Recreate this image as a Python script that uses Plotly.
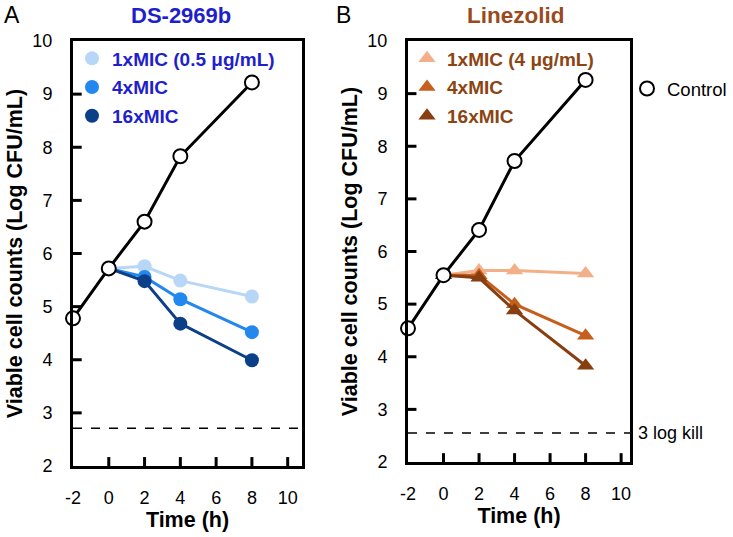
import plotly.graph_objects as go

# ---- data ----
time_ctrl = [-2, 0, 2, 4, 8]
ctrl_ds = [4.78, 5.72, 6.60, 7.83, 9.22]
ctrl_lzd = [4.54, 5.55, 6.41, 7.72, 9.26]

time_trt = [0, 2, 4, 8]
ds_1x = [5.72, 5.76, 5.49, 5.19]
ds_4x = [5.72, 5.56, 5.14, 4.52]
ds_16x = [5.72, 5.48, 4.68, 3.99]

lzd_1x = [5.55, 5.64, 5.64, 5.58]
lzd_4x = [5.55, 5.55, 5.00, 4.40]
lzd_16x = [5.55, 5.50, 4.88, 3.83]

kill_ds = 2.71
kill_lzd = 2.55

ds_labels = ["1xMIC (0.5 μg/mL)", "4xMIC", "16xMIC"]
lzd_labels = ["1xMIC (4 μg/mL)", "4xMIC", "16xMIC"]
x_ticks = [-2, 0, 2, 4, 6, 8, 10]
x_tick_text = ["-2", "0", "2", "4", "6", "8", "10"]
y_ticks = [2, 3, 4, 5, 6, 7, 8, 9, 10]

blues = ["#b8d6f6", "#2287ee", "#0b3f88"]
oranges = ["#f3b088", "#c65f1b", "#873e10"]
blue_txt = "#1f1fcc"
brown_txt = "#8b4513"

W, H = 733, 537
FONT = "Liberation Sans, Arial, sans-serif"

X_RANGE_A = [-2, 10.8]
X_RANGE_B = [-2, 10.5]
Y_RANGE = [2, 10]

fig = go.Figure()

def add_panel(xa, ya, ctrl, series, labels, colors, symbol, legend_name, show_ctrl_legend):
    msize = 15 if symbol == "triangle-up" else 14
    for vals, col in zip(series, colors):
        fig.add_trace(go.Scatter(
            x=time_trt, y=vals, xaxis=xa, yaxis=ya, mode="lines+markers",
            line=dict(color=col, width=3), cliponaxis=False,
            marker=dict(symbol=symbol, size=msize, color=col),
            showlegend=False, hoverinfo="skip"))
    for lab, col in zip(labels, colors):
        fig.add_trace(go.Scatter(
            x=[None], y=[None], xaxis=xa, yaxis=ya, mode="markers",
            marker=dict(symbol=symbol, size=msize, color=col),
            name=lab, legend=legend_name, legendgroup=legend_name + lab, showlegend=True))
    fig.add_trace(go.Scatter(
        x=time_ctrl, y=ctrl, xaxis=xa, yaxis=ya, mode="lines+markers",
        line=dict(color="black", width=3), cliponaxis=False,
        marker=dict(symbol="circle", size=14, color="white", line=dict(color="black", width=2)),
        showlegend=False, hoverinfo="skip"))
    if show_ctrl_legend:
        fig.add_trace(go.Scatter(
            x=[None], y=[None], xaxis=xa, yaxis=ya, mode="markers",
            marker=dict(symbol="circle", size=14, color="white", line=dict(color="black", width=2)),
            name="Control", legend="legend3", showlegend=True))

add_panel("x", "y", ctrl_ds, [ds_1x, ds_4x, ds_16x], ds_labels, blues, "circle", "legend", False)
add_panel("x2", "y2", ctrl_lzd, [lzd_1x, lzd_4x, lzd_16x], lzd_labels, oranges, "triangle-up", "legend2", True)

# inside tick marks, drawn as short line segments at the tick values (on top)
def add_ticks(xa, ya, xr, yr):
    xlen = 0.038 * (xr[1] - xr[0])   # ~9 px
    ylen = 0.021 * (yr[1] - yr[0])   # ~9 px
    tx, ty = [], []
    for xv in x_ticks[1:]:
        tx += [xv, xv, None]
        ty += [yr[0], yr[0] + ylen, None]
    for yv in y_ticks[1:-1]:
        tx += [xr[0], xr[0] + xlen, None]
        ty += [yv, yv, None]
    fig.add_trace(go.Scatter(x=tx, y=ty, xaxis=xa, yaxis=ya, mode="lines",
                             line=dict(color="black", width=3), showlegend=False,
                             connectgaps=False, hoverinfo="skip"))

add_ticks("x", "y", X_RANGE_A, Y_RANGE)
add_ticks("x2", "y2", X_RANGE_B, Y_RANGE)

# 3 log kill lines
fig.add_shape(type="line", xref="x domain", yref="y", x0=0, x1=1, y0=kill_ds, y1=kill_ds,
              line=dict(color="black", width=1.5, dash="dash"))
fig.add_shape(type="line", xref="x2 domain", yref="y2", x0=0, x1=1, y0=kill_lzd, y1=kill_lzd,
              line=dict(color="black", width=1.5, dash="dash"))

# main axes: box lines + labels (transparent outside ticks push labels away)
main_common = dict(showline=True, mirror=True, linewidth=3, linecolor="black",
                   ticks="outside", tickwidth=1, tickcolor="rgba(0,0,0,0)",
                   showgrid=False, zeroline=False, automargin=False,
                   tickfont=dict(family=FONT, size=18, color="black"))

title_font = dict(family=FONT, size=21.5, color="black")

def px_x(p):
    return p / W

def px_y(p):
    return 1 - p / H

fig.update_layout(
    width=W, height=H, margin=dict(l=0, r=0, t=0, b=0, autoexpand=False),
    plot_bgcolor="white", paper_bgcolor="white",
    font=dict(family=FONT, color="black"),
    xaxis=dict(domain=[px_x(73), px_x(302)], range=X_RANGE_A, tickvals=x_ticks, ticktext=x_tick_text,
               ticklen=13, anchor="y",
               title=dict(text="<b>Time (h)</b>", font=title_font, standoff=6), **main_common),
    yaxis=dict(domain=[px_y(466), px_y(41)], range=Y_RANGE, tickvals=y_ticks,
               ticklen=14, anchor="x",
               title=dict(text="<b>Viable cell counts (Log CFU/mL)</b>", font=title_font, standoff=4),
               **main_common),
    xaxis2=dict(domain=[px_x(408), px_x(630)], range=X_RANGE_B, tickvals=x_ticks, ticktext=x_tick_text,
                ticklen=13, anchor="y2",
                title=dict(text="<b>Time (h)</b>", font=title_font, standoff=6), **main_common),
    yaxis2=dict(domain=[px_y(462), px_y(41)], range=Y_RANGE, tickvals=y_ticks,
                ticklen=14, anchor="x2",
                title=dict(text="<b>Viable cell counts (Log CFU/mL)</b>", font=title_font, standoff=4),
                **main_common),
    legend=dict(x=px_x(72), y=px_y(39.5), xanchor="left", yanchor="top",
                bgcolor="rgba(0,0,0,0)", tracegroupgap=1, itemwidth=30,
                font=dict(family=FONT, size=19, color=blue_txt, weight="bold")),
    legend2=dict(x=px_x(407), y=px_y(39.5), xanchor="left", yanchor="top",
                 bgcolor="rgba(0,0,0,0)", tracegroupgap=1, itemwidth=30,
                 font=dict(family=FONT, size=19, color=brown_txt, weight="bold")),
    legend3=dict(x=px_x(627), y=px_y(70), xanchor="left", yanchor="top",
                 bgcolor="rgba(0,0,0,0)", itemwidth=30,
                 font=dict(family=FONT, size=18.5, color="black")),
    annotations=[
        dict(text="A", x=px_x(2), y=px_y(15), xref="paper", yref="paper", xanchor="left",
             yanchor="middle", showarrow=False, font=dict(size=23, family=FONT)),
        dict(text="B", x=px_x(334), y=px_y(15), xref="paper", yref="paper", xanchor="left",
             yanchor="middle", showarrow=False, font=dict(size=23, family=FONT)),
        dict(text="<b>DS-2969b</b>", x=px_x(181), y=px_y(15), xref="paper", yref="paper",
             xanchor="center", yanchor="middle", showarrow=False,
             font=dict(size=22, family=FONT, color=blue_txt)),
        dict(text="<b>Linezolid</b>", x=px_x(516), y=px_y(15), xref="paper", yref="paper",
             xanchor="center", yanchor="middle", showarrow=False,
             font=dict(size=22.5, family=FONT, color="#9a4a1c")),
        dict(text="3 log kill", x=px_x(636), y=kill_lzd, xref="paper", yref="y2",
             xanchor="left", yanchor="middle", showarrow=False,
             font=dict(size=18, family=FONT, color="black")),
    ],
)

fig.write_html("out.html", config={"displayModeBar": False},
               post_script="document.body.style.margin='0px';")
